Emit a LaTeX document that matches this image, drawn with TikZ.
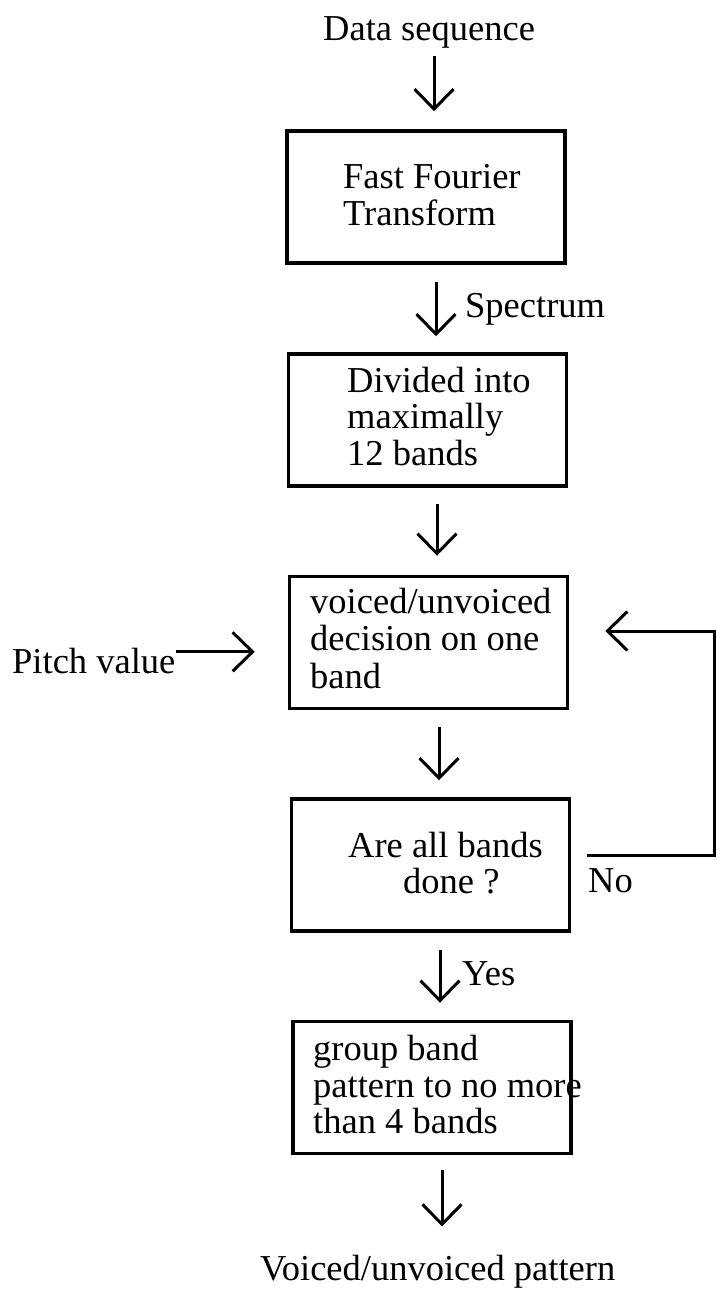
\documentclass[tikz,border=0pt]{standalone}
\usepackage{fontspec}
\setmainfont{Liberation Serif}
\usetikzlibrary{arrows.meta}
\begin{document}
\begin{tikzpicture}[x=1pt,y=-1pt,
  procbox/.style={draw=black, line width=3.5pt, minimum width=278pt,
    minimum height=132pt, inner sep=0pt},
  txt/.style={inner sep=0pt, anchor=base west,
    font=\fontsize{36.5}{37}\selectfont},
  flow/.style={line width=3pt,
    -{Straight Barb[length=20pt,width=39pt]}}]
\useasboundingbox[fill=white] (0,0) rectangle (716,1291);

% processing blocks
\node[procbox] (b1) at (426,197) {};
\node[procbox] (b2) at (427.5,420) {};
\node[procbox] (b3) at (428.5,642.5) {};
\node[procbox] (b4) at (430.5,865) {};
\node[procbox] (b5) at (432,1087.5) {};

% texts
\node[txt] (ds)  at (323,40)   {Data sequence};
\node[txt] (t1a) at (343,188)  {Fast Fourier};
\node[txt] (t1b) at (343,225)  {Transform};
\node[txt] (sp)  at (465,317)  {Spectrum};
\node[txt] (t2a) at (347,392)  {Divided into};
\node[txt] (t2b) at (347,428)  {maximally};
\node[txt] (t2c) at (347,465)  {12 bands};
\node[txt] (t3a) at (310,613)  {voiced/unvoiced};
\node[txt] (t3b) at (310,650)  {decision on one};
\node[txt] (t3c) at (310,688)  {band};
\node[txt] (t4a) at (348,857)  {Are all bands};
\node[txt] (t4b) at (403,893)  {done ?};
\node[txt] (no)  at (588,892)  {No};
\node[txt] (yes) at (462,985)  {Yes};
\node[txt] (t5a) at (313,1060) {group band};
\node[txt] (t5b) at (313,1097) {pattern to no more};
\node[txt] (t5c) at (313,1133) {than 4 bands};
\node[txt] (out) at (260,1280) {Voiced/unvoiced pattern};
\node[txt] (pv)  at (12,673)   {Pitch value};

% main flow
\coordinate (a1) at ([xshift=8pt]b1.north);
\draw[flow, shorten <=8pt, shorten >=18pt] (ds.south -| a1) -- (a1);
\coordinate (a2) at ([xshift=10pt]b1.south);
\draw[flow, shorten <=17pt, shorten >=16pt] (a2) -- (a2 |- b2.north);
\coordinate (a3) at ([xshift=9.5pt]b2.south);
\draw[flow, shorten <=16pt, shorten >=19pt] (a3) -- (a3 |- b3.north);
\coordinate (a4) at ([xshift=10.5pt]b3.south);
\draw[flow, shorten <=17pt, shorten >=17pt] (a4) -- (a4 |- b4.north);
\coordinate (a5) at ([xshift=9.5pt]b4.south);
\draw[flow, shorten <=17pt, shorten >=17pt] (a5) -- (a5 |- b5.north);
\coordinate (a6) at ([xshift=10pt]b5.south);
\draw[flow, shorten <=15pt, shorten >=28pt] (a6) -- (a6 |- out.north);

% pitch input
\coordinate (pvout) at ([yshift=8.7pt]pv.east);
\draw[flow, shorten >=33pt] (pvout) -- (pvout -| b3.west);

% loop back when not all bands are done
\coordinate (loopx) at (714,0);
\coordinate (nost) at ([yshift=10pt]b4.east);
\coordinate (back) at ([yshift=11.5pt]b3.east);
\draw[flow, shorten <=16pt, shorten >=36pt]
  (nost) -- (nost -| loopx) -- (back -| loopx) -- (back);
\end{tikzpicture}
\end{document}
